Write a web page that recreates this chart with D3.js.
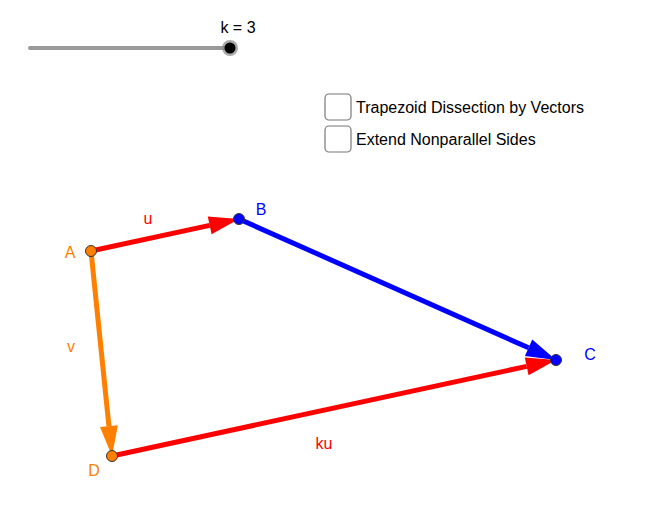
<!DOCTYPE html>
<html><head><meta charset="utf-8">
<script src="https://cdn.jsdelivr.net/npm/d3@7"></script>
<style>body{margin:0;background:#fff}svg{display:block;font-family:Arial,"Liberation Sans",sans-serif}</style>
</head><body><svg id="c" width="666" height="524"></svg>
<script>
// math coords, y up, A at origin
var k = 3;
var pointNames = ["A", "B", "D"];
var pointX = [0, 148, 21];
var pointY = [0, 32, -205];
var checkboxLabels = ["Trapezoid Dissection by Vectors", "Extend Nonparallel Sides"];

var svg = d3.select("#c");
var x = d3.scaleLinear().domain([-91, 575]).range([0, 666]);
var y = d3.scaleLinear().domain([251, -273]).range([0, 524]);

var P = {};
pointNames.forEach(function (n, i) { P[n] = [pointX[i], pointY[i]]; });
var u = [P.B[0] - P.A[0], P.B[1] - P.A[1]];
P.C = [P.D[0] + k * u[0], P.D[1] + k * u[1]];

// slider
var slider = d3.scaleLinear().domain([0, 3]).range([30, 230]);
svg.append("line").attr("x1", slider(0)).attr("x2", slider(3)).attr("y1", 48).attr("y2", 48)
  .attr("stroke", "#999").attr("stroke-width", 4).attr("stroke-linecap", "round");
svg.append("circle").attr("cx", slider(k)).attr("cy", 48).attr("r", 8).attr("fill", "#888").attr("opacity", 0.7);
svg.append("circle").attr("cx", slider(k)).attr("cy", 48).attr("r", 5.5).attr("fill", "#000");
svg.append("text").attr("x", slider(k) + 8).attr("y", 33).attr("text-anchor", "middle")
  .attr("font-size", 16).text("k = " + k);

// checkboxes
checkboxLabels.forEach(function (t, i) {
  var cy = 107 + i * 32;
  svg.append("rect").attr("x", 325).attr("y", cy - 13).attr("width", 26).attr("height", 26).attr("rx", 4)
    .attr("fill", "#fff").attr("stroke", "#777").attr("stroke-width", 1.2);
  svg.append("text").attr("x", 356).attr("y", cy + 6).attr("font-size", 16).attr("fill", "#000").text(t);
});

function vec(a, b, color) {
  var x1 = x(a[0]), y1 = y(a[1]), x2 = x(b[0]), y2 = y(b[1]);
  var dx = x2 - x1, dy = y2 - y1, L = Math.hypot(dx, dy), ux = dx / L, uy = dy / L;
  var hl = 30, hw = 9;
  var bx = x2 - ux * hl, by = y2 - uy * hl;
  svg.append("line").attr("x1", x1).attr("y1", y1).attr("x2", bx).attr("y2", by)
    .attr("stroke", color).attr("stroke-width", 5);
  svg.append("path").attr("d", "M" + x2 + "," + y2 + "L" + (bx - uy * hw) + "," + (by + ux * hw) +
    "L" + (bx + uy * hw) + "," + (by - ux * hw) + "Z").attr("fill", color);
}
vec(P.A, P.D, "#ff8000");
vec(P.A, P.B, "#ff0000");
vec(P.B, P.C, "#0000ff");
vec(P.D, P.C, "#ff0000");

var pts = [["A", "#ff8000", -21, 7], ["B", "#0000ff", 22, -4], ["C", "#0000ff", 34, 0], ["D", "#ff8000", -18, 20]];
pts.forEach(function (p) {
  var c = P[p[0]];
  svg.append("circle").attr("cx", x(c[0])).attr("cy", y(c[1])).attr("r", 5.5)
    .attr("fill", p[1]).attr("stroke", "#333").attr("stroke-width", 1);
  svg.append("text").attr("x", x(c[0]) + p[2]).attr("y", y(c[1]) + p[3]).attr("text-anchor", "middle")
    .attr("fill", p[1]).attr("font-size", 16).text(p[0]);
});
var labels = [["u", 148, 224, "#ff0000"], ["v", 71, 352, "#ff8000"], ["ku", 324, 449, "#ff0000"]];
labels.forEach(function (l) {
  svg.append("text").attr("x", l[1]).attr("y", l[2]).attr("text-anchor", "middle")
    .attr("fill", l[3]).attr("font-size", 16).text(l[0]);
});
</script></body></html>
